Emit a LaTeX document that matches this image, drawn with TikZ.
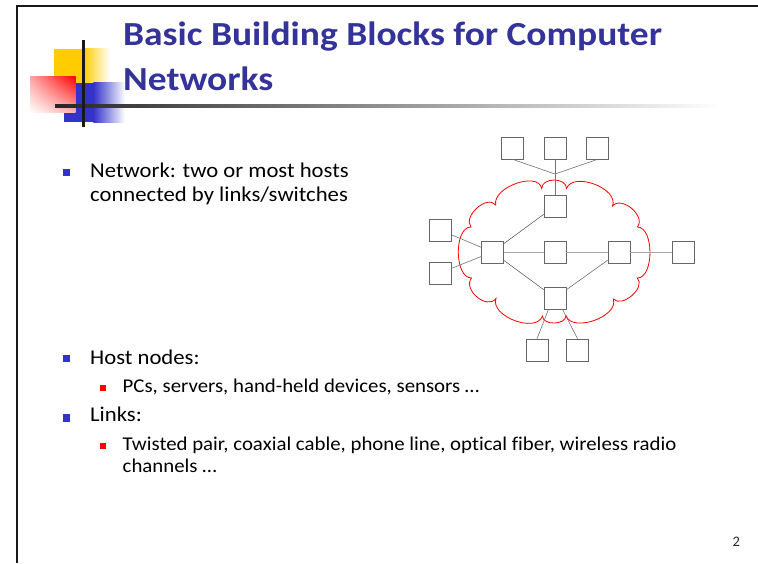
\documentclass[tikz,border=0pt]{standalone}
\usepackage{fontspec}
\setmainfont[Ligatures=NoCommon]{Carlito}
\newfontfamily\titlefont[FakeStretch=1.112,Ligatures=NoCommon]{Carlito}
\newfontfamily\bodyfont[FakeStretch=1.08,Ligatures=NoCommon]{Carlito}
\newfontfamily\subfont[FakeStretch=1.068,Ligatures=NoCommon]{Carlito}
\usetikzlibrary{shadings}
\definecolor{titleblue}{HTML}{333399}
\definecolor{bulletblue}{HTML}{3333CC}
\definecolor{decoyellow}{HTML}{FFCC00}
\definecolor{decoblue}{HTML}{3333CC}
\definecolor{boxgray}{HTML}{666666}
\tikzset{
  box/.style={draw=boxgray, line width=0.6pt, minimum size=22pt, inner sep=0pt, fill=white},
  darklink/.style={draw=black!70, line width=0.5pt},
  midlink/.style={draw=black!55, line width=0.6pt},
  lightlink/.style={draw=black!35, line width=0.9pt},
  cloudline/.style={draw=red, line width=0.8pt},
  titletext/.style={anchor=base west, inner sep=0pt, text=titleblue, font=\titlefont\fontsize{33.7}{40}\selectfont\bfseries},
  bodytext/.style={anchor=base west, inner sep=0pt, font=\bodyfont\fontsize{21}{25}\selectfont},
  subtext/.style={anchor=base west, inner sep=0pt, font=\subfont\fontsize{19.5}{23}\selectfont},
}
\begin{document}
\begin{tikzpicture}[x=1pt, y=-1pt]
\useasboundingbox (0,0) rectangle (758,563);
\fill[white] (0,0) rectangle (758,563);
% slide border
\draw[line width=2pt, black!90] (17,563) -- (17,6) -- (758,6);
% decoration
\fill[decoyellow] (54,49) rectangle (83.3,82.7);
\shade[left color=decoyellow, right color=white] (83.3,48.3) rectangle (110,82.7);
\fill[decoblue] (64.3,82.7) rectangle (93.3,121.7);
\shade[left color=decoblue, right color=white] (93.3,82.7) rectangle (125,122.7);
\shade[upper left=red!35!white, upper right=red, lower left=white, lower right=red!30!white] (30,76.7) rectangle (75.7,112.7);
\shade[left color=black!85, middle color=black!40, right color=white] (55,104.3) rectangle (720,107.8);
\fill[black!90] (81.8,40) rectangle (84.8,126.7);
% title
\node[titletext] (title1) at (123,45) {Basic Building Blocks for Computer};
\node[titletext] (title2) at (123,90.7) {Networks};
% bullets and text
\fill[bulletblue] (62.5,168.5) rectangle (69.7,175.7);
\node[bodytext] (net1) at (90,177) {Network: two or most hosts};
\node[bodytext] (net2) at (90,201) {connected by links/switches};
\fill[bulletblue] (62.5,355) rectangle (69.7,362.3);
\node[bodytext] (host) at (90,364) {Host nodes:};
\fill[red] (100,385) rectangle (105.7,390.7);
\node[subtext] (pcs) at (122.5,392.7) {PCs, servers, hand-held devices, sensors …};
\fill[bulletblue] (62.5,414.3) rectangle (69.7,421.5);
\node[bodytext] (links) at (90,421.7) {Links:};
\fill[red] (100,443.3) rectangle (105.7,449);
\node[subtext] (tw1) at (122.5,450) {Twisted pair, coaxial cable, phone line, optical fiber, wireless radio};
\node[subtext] (tw2) at (122.5,472) {channels …};
\node[anchor=base west, inner sep=0pt, font=\fontsize{14.5}{17}\selectfont, text=black!85] (pgno) at (732.5,546.7) {2};
% cloud
\draw[cloudline]
  (541.7,188.5) .. controls (541.7,177.2) and (566.5,177.2) .. (566.5,188.5)
  .. controls (573.2,171.1) and (619.2,188.6) .. (612.5,206)
  .. controls (621.6,195.3) and (646.4,216.3) .. (637.3,227)
  .. controls (654.2,227) and (654.2,278) .. (637.3,278)
  .. controls (646.2,287.3) and (622.2,308.3) .. (613.3,299)
  .. controls (619.1,316.7) and (571.8,333.2) .. (566,315.5)
  .. controls (566,325.2) and (542.5,325.7) .. (542.5,316)
  .. controls (536.2,333.7) and (489.7,316.2) .. (496,298.5)
  .. controls (487,310.2) and (462.5,289.7) .. (471.5,278)
  .. controls (454.2,278) and (453.7,227) .. (471,227)
  .. controls (462.5,216.3) and (487.2,194.3) .. (495.7,205)
  .. controls (492.1,187.3) and (538.1,170.8) .. cycle;
% network boxes
\node[box] (t1) at (512.5,148) {};
\node[box] (t2) at (555,148) {};
\node[box] (t3) at (597.7,148) {};
\coordinate (j) at (555,174);
\node[box] (tc) at (555,206) {};
\node[box] (L) at (492.5,252) {};
\node[box] (M) at (555,252) {};
\node[box] (R) at (619,252) {};
\node[box] (FR) at (683,252) {};
\node[box] (lt) at (440,230) {};
\node[box] (lb) at (440,273) {};
\node[box] (bc) at (555,298) {};
\node[box] (bl) at (537,350) {};
\node[box] (br) at (577.5,350) {};
% connectors
\draw[midlink] (t1.south) -- (j);
\draw[midlink] (t2.south) -- (j);
\draw[midlink] (t3.south) -- (j);
\draw[midlink] (j) -- (tc.north);
\draw[darklink] (L) -- (tc);
\draw[lightlink] (L) -- (M);
\draw[lightlink] (M) -- (R);
\draw[lightlink] (R) -- (FR);
\draw[darklink] (L) -- (bc);
\draw[midlink] (R) -- (bc);
\draw[midlink] (lt) -- (L);
\draw[midlink] (lb) -- (L);
\draw[midlink] ([xshift=-6.5pt]bc.south) -- (bl.north);
\draw[midlink] ([xshift=7.5pt]bc.south) -- (br.north);
\end{tikzpicture}
\end{document}
